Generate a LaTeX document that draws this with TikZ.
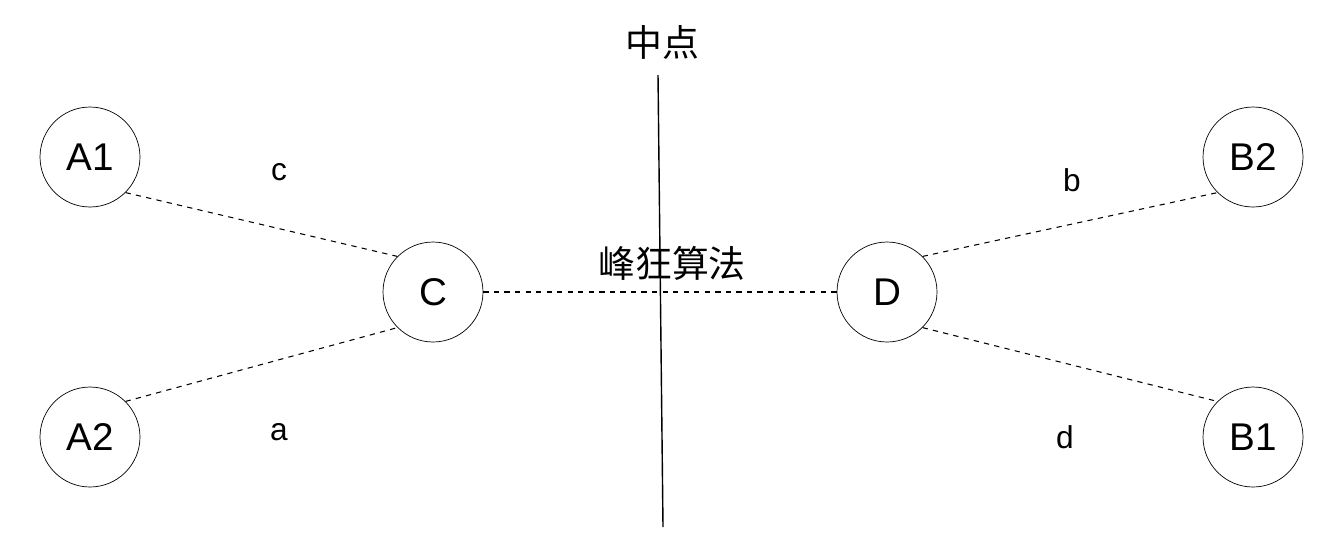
\documentclass[tikz,border=0pt]{standalone}
\usepackage{fontspec}
\setmainfont{Liberation Sans}
\newfontfamily\cjk{Noto Sans CJK SC}
\begin{document}
\begin{tikzpicture}[x=0.02cm,y=-0.02cm,
  circ/.style={draw,circle,minimum size=2cm,inner sep=0pt,font=\fontsize{22}{26}\selectfont},
  lbl/.style={font=\fontsize{18}{21}\selectfont},
  cjklbl/.style={font=\cjk\fontsize{21}{25}\selectfont},
  conn/.style={dashed,line width=0.6pt}]
\useasboundingbox (0,0) rectangle (1344,549);
\node[circ] (A1) at (90,157) {A1};
\node[circ] (A2) at (90,437) {A2};
\node[circ] (C) at (433,292) {C};
\node[circ] (D) at (887,292) {D};
\node[circ] (B2) at (1253,157) {B2};
\node[circ] (B1) at (1253,437) {B1};
\draw[conn] (A1.-45) -- (C.135);
\draw[conn] (A2.45) -- (C.-135);
\draw[conn] (C) -- (D);
\draw[conn] (D.45) -- (B2.-135);
\draw[conn] (D.-45) -- (B1.135);
\node[lbl] (lc) at (279,172) {c};
\node[lbl] (la) at (279,432) {a};
\node[lbl] (lb) at (1072,180) {b};
\node[lbl] (ld) at (1065,437) {d};
\node[cjklbl] (alg) at (672,263) {峰狂算法};
\node[cjklbl] (mid) at (662,42) {中点};
\coordinate (top) at (658,75);
\coordinate (bot) at (663,527);
\draw[line width=0.8pt] (top) -- (bot);
\end{tikzpicture}
\end{document}
